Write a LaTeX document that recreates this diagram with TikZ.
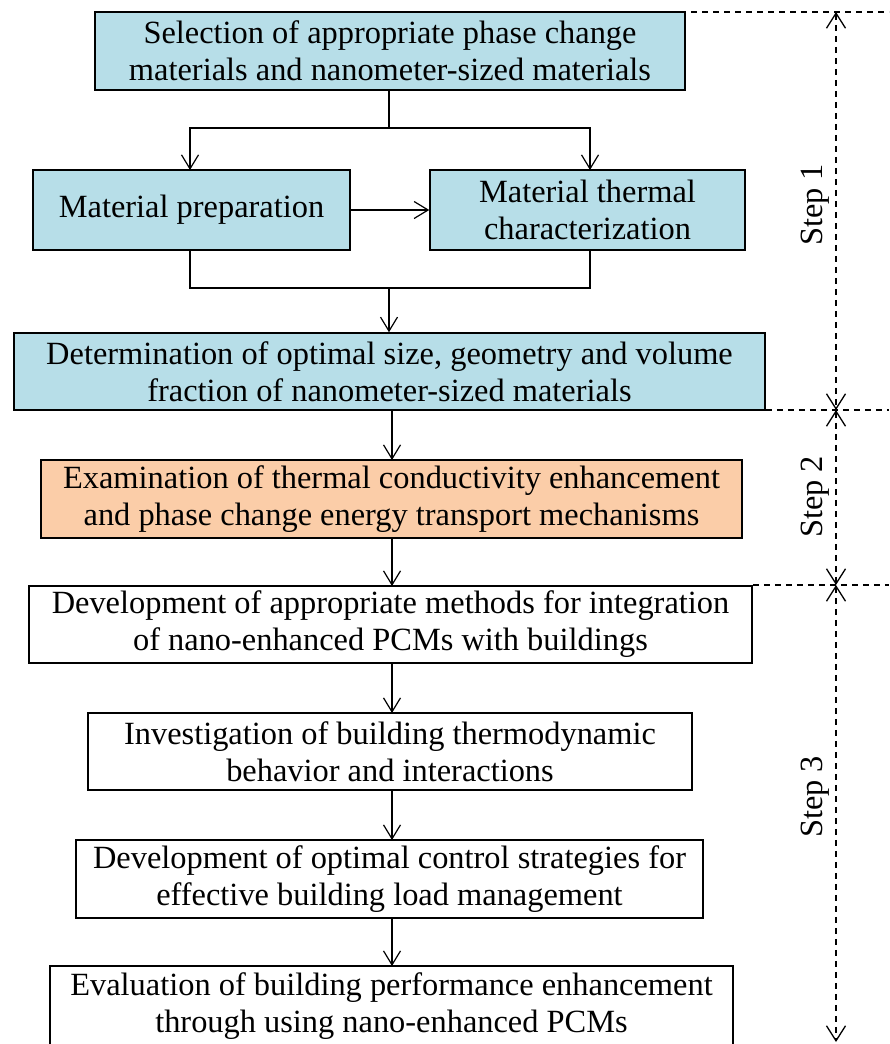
\documentclass[tikz,border=0pt]{standalone}
\usepackage{fontspec}
\setmainfont{Liberation Serif}
\usetikzlibrary{arrows.meta}
\definecolor{boxblue}{HTML}{B7DEE8}
\definecolor{boxorange}{HTML}{FBCDA8}
\begin{document}
\begin{tikzpicture}[x=1pt,y=-1pt,
  every node/.style={font=\fontsize{32.4}{37}\selectfont, inner sep=0pt},
  box/.style={draw=black, line width=1.5pt, align=center, minimum height=78pt},
  bluebox/.style={box, fill=boxblue},
  orangebox/.style={box, fill=boxorange},
  whitebox/.style={box, fill=white},
  conn/.style={line width=1.2pt},
  arr/.style={conn, -{Straight Barb[length=14pt,width=17pt,line width=1.2pt]}},
  dtip/.tip={Straight Barb[length=15pt,width=19pt,line width=1.3pt]},
  dasharr/.style={line width=1.2pt, dash pattern=on 6pt off 5pt, dtip-dtip},
  dline/.style={line width=1.2pt, dash pattern=on 6pt off 5pt},
  steplabel/.style={rotate=90}
]
\useasboundingbox (0,0) rectangle (889,1044);
\clip (0,0) rectangle (889,1044);

\node[bluebox, minimum width=590pt] (b1) at (390,51) {Selection of appropriate phase change\\materials and nanometer-sized materials};
\node[bluebox, minimum width=317pt, minimum height=80pt] (b2) at (191.5,210) {Material preparation};
\node[bluebox, minimum width=315pt, minimum height=80pt] (b3) at (587.5,210) {Material thermal\\characterization};
\node[bluebox, minimum width=751pt, minimum height=77pt] (b4) at (389.5,371.5) {Determination of optimal size, geometry and volume\\fraction of nanometer-sized materials};
\node[orangebox, minimum width=701pt] (b5) at (391.5,499) {Examination of thermal conductivity enhancement\\and phase change energy transport mechanisms};
\node[whitebox, minimum width=723pt, minimum height=77pt] (b6) at (390.5,624.5) {Development of appropriate  methods for integration\\of nano-enhanced PCMs with buildings};
\node[whitebox, minimum width=604pt, minimum height=77pt] (b7) at (390,751.5) {Investigation of building thermodynamic\\behavior and interactions};
\node[whitebox, minimum width=627pt] (b8) at (389.5,879) {Development of optimal control strategies for\\effective building load management};
\node[whitebox, minimum width=683pt, minimum height=80pt] (b9) at (391.5,1006) {Evaluation of building performance enhancement\\through using nano-enhanced PCMs};

% split and merge
\coordinate (s1) at (389,128);
\coordinate (m1) at (389,288);
\draw[conn] (b1.south -| s1) -- (s1);
\draw[conn] (s1) -| (190,140);
\draw[arr] (190,140) -- (190,170);
\draw[conn] (s1) -| (590,140);
\draw[arr] (590,140) -- (590,170);
\draw[arr] (b2) -- (b3);
\draw[conn] (190,250) |- (m1);
\draw[conn] (590,250) |- (m1);
\draw[arr] (m1) -- (m1 |- b4.north);

% chain
\draw[arr] (392,410) -- (392,460);
\draw[arr] (392,538) -- (392,586);
\draw[arr] (392,663) -- (392,713);
\draw[arr] (392,790) -- (392,840);
\draw[arr] (392,918) -- (392,966);

% step markers
\coordinate (t0) at (836,12);
\coordinate (t1) at (836,410);
\coordinate (t2) at (836,585);
\coordinate (t3) at (836,1042);
\draw[dline] (636,12) -- (889,12);
\draw[dline] (b4.east |- t1) -- (889,410);
\draw[dline] (b6.east |- t2) -- (889,585);
\draw[dasharr] (t0) -- (t1);
\draw[dasharr] (t1) -- (t2);
\draw[dasharr] (t2) -- (t3);
\node[steplabel] (l1) at (815,205) {Step 1};
\node[steplabel] (l2) at (815,497) {Step 2};
\node[steplabel] (l3) at (815,797) {Step 3};
\end{tikzpicture}
\end{document}
